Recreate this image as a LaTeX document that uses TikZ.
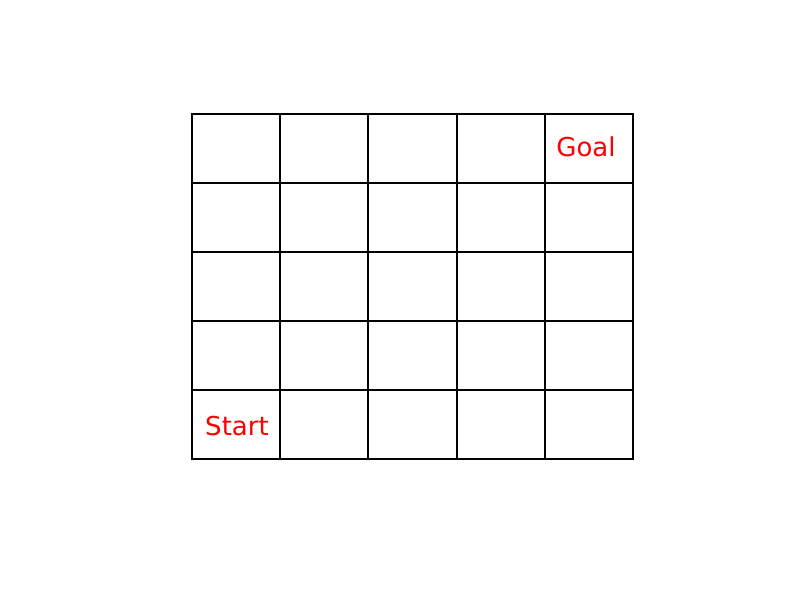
\documentclass[tikz,border=0pt]{standalone}
\usepackage{fontspec}
\setmainfont{DejaVu Sans}
\tikzset{
  gridline/.style={draw=black, line width=2pt, line cap=rect},
  label/.style={text=red, font=\fontsize{26}{30}\selectfont, anchor=base, inner sep=0pt}
}
\begin{document}
\begin{tikzpicture}[x=1pt,y=-1pt]
\useasboundingbox (0,0) rectangle (797,594);
\fill[white] (0,0) rectangle (797,594);
\foreach \i in {0,...,5} {
  \draw[gridline] ({192+\i*88.2},114) -- ({192+\i*88.2},459);
  \draw[gridline] (192,{114+\i*69}) -- (633,{114+\i*69});
}
\node[label] (goal) at (586,156) {Goal};
\node[label] (start) at (237,435) {Start};
\end{tikzpicture}
\end{document}
